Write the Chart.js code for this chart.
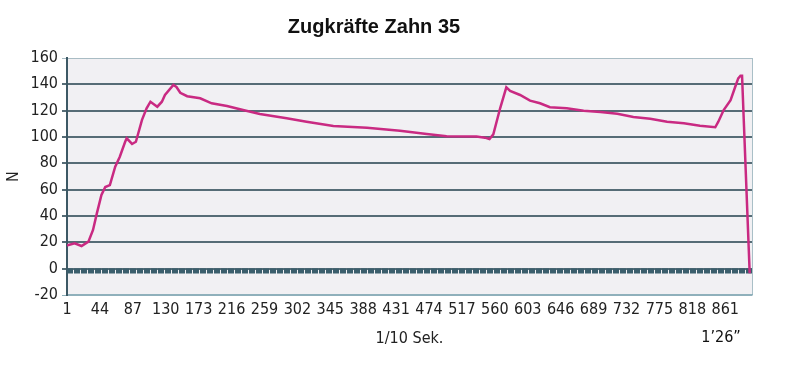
<!DOCTYPE html>
<html>
<head>
<meta charset="utf-8">
<script src="https://cdn.jsdelivr.net/npm/chart.js@4.4.1/dist/chart.umd.min.js"></script>
<style>
  html, body { margin:0; padding:0; background:#fff; }
  #wrap { width:790px; height:367px; }
</style>
</head>
<body>
<div id="wrap"><canvas id="chart" width="790" height="367"></canvas></div>
<script>
// --- Daten ---
const chartTitle = "Zugkräfte Zahn 35";
const xTitle = "1/10 Sek.";
const endLabel = "1’26”";
const yTitle = "N";

// Zeit in 1/10 Sek.
const forceX = [1, 3, 11, 20, 29, 35, 40, 46, 51, 57, 64, 70, 77, 79, 86, 91, 99, 105, 110, 119,
  125, 129, 140, 144, 149, 158, 175, 190, 210, 231, 253, 288, 314, 349, 393, 436, 471, 497, 536, 547,
  553, 558, 567, 575, 580, 593, 606, 619, 632, 654, 676, 698, 720, 741, 763, 785, 807, 828, 848, 852,
  859, 868, 874, 878, 881, 883, 893];
// Kraft in N
const forceY = [17.5, 18, 19.3, 17.2, 20.5, 29.4, 42, 56, 62, 63.5, 77.5, 85, 96.4, 99, 94.7, 96.4, 113, 121.8, 126.8, 123,
  126.8, 131.9, 139.5, 138, 133.6, 131, 129.4, 125.6, 123.5, 120.5, 117.5, 114.2, 111.6, 108.4, 107, 104.8, 102.3, 100.5, 100.3, 99.5,
  98.5, 102, 122, 137.7, 135, 131.9, 127.6, 125.6, 122.6, 121.8, 120, 119, 117.7, 115.2, 113.8, 111.6, 110.4, 108.6, 107.4, 111.6,
  120.5, 128, 138, 144.5, 146.5, 146.5, -3.5];

// Nulllinie (gestrichelt)
const zeroX = [1, 896];
const zeroY = [-1.7, -1.7];

const xTicks = [1, 44, 87, 130, 173, 216, 259, 302, 345, 388, 431, 474, 517, 560, 603, 646, 689, 732, 775, 818, 861];
const xMin = 1, xMax = 896;
const yMin = -20, yMax = 160, yStep = 20;

const tickFont = { family: "'Liberation Sans Narrow', 'DejaVu Sans Condensed', sans-serif", size: 16 };

// Hintergrund + Texte
const paperPlugin = {
  id: 'paper',
  beforeDraw(chart) {
    const { ctx, chartArea: a } = chart;
    ctx.save();
    ctx.fillStyle = '#f1f0f3';
    ctx.fillRect(a.left, a.top, a.right - a.left, a.bottom - a.top);
    ctx.strokeStyle = '#a9bfc7';
    ctx.lineWidth = 1;
    ctx.beginPath();
    ctx.moveTo(a.right + 0.5, a.top);
    ctx.lineTo(a.right + 0.5, a.bottom);
    ctx.stroke();
    ctx.restore();
  },
  afterDraw(chart) {
    const { ctx } = chart;
    ctx.save();
    ctx.fillStyle = '#111';
    ctx.textAlign = 'center';
    ctx.textBaseline = 'alphabetic';
    ctx.font = "bold 20px 'Liberation Sans', Arial, sans-serif";
    ctx.fillText(chartTitle, 374, 33);
    ctx.font = "16px " + tickFont.family;
    ctx.textBaseline = 'middle';
    ctx.fillText(endLabel, 721, 338);
    ctx.restore();
  }
};

new Chart(document.getElementById('chart'), {
  type: 'line',
  data: {
    datasets: [
      {
        label: 'Kraft',
        data: forceX.map((x, i) => ({ x: x, y: forceY[i] })),
        borderColor: '#c92a82',
        borderWidth: 2.5,
        pointRadius: 0,
        tension: 0,
        order: 0
      },
      {
        label: 'Null',
        data: zeroX.map((x, i) => ({ x: x, y: zeroY[i] })),
        borderColor: '#3b5e6c',
        borderWidth: 5,
        borderDash: [6, 1],
        pointRadius: 0,
        order: 1
      }
    ]
  },
  options: {
    responsive: false,
    animation: false,
    layout: { padding: { top: 58, right: 38, left: 0, bottom: 0 } },
    plugins: {
      legend: { display: false },
      title: { display: false },
      tooltip: { enabled: false }
    },
    scales: {
      x: {
        type: 'linear',
        min: xMin,
        max: xMax,
        afterBuildTicks: s => { s.ticks = xTicks.map(v => ({ value: v })); },
        afterFit: s => { s.height = 72; },
        grid: { display: false, drawTicks: false },
        border: { display: true, color: '#8fb0bb', width: 1.5 },
        ticks: { font: tickFont, color: '#222', padding: 5, maxRotation: 0, autoSkip: false },
        title: { display: true, text: xTitle, font: tickFont, color: '#222', padding: { top: 0, bottom: 19 } }
      },
      y: {
        min: yMin,
        max: yMax,
        afterFit: s => { s.width = 67; },
        ticks: { stepSize: yStep, font: tickFont, color: '#222', padding: 4 },
        grid: {
          color: c => (c.tick.value === yMax ? '#a9bcc4' : c.tick.value === yMin ? '#8fb0bb' : '#566c76'),
          lineWidth: c => (c.tick.value === yMax || c.tick.value === yMin ? 1 : 2),
          tickLength: 5
        },
        border: { display: true, color: '#3d5965', width: 2 },
        title: { display: true, text: yTitle, font: tickFont, color: '#222', padding: { top: 4, bottom: 0 } }
      }
    }
  },
  plugins: [paperPlugin]
});
</script>
</body>
</html>
